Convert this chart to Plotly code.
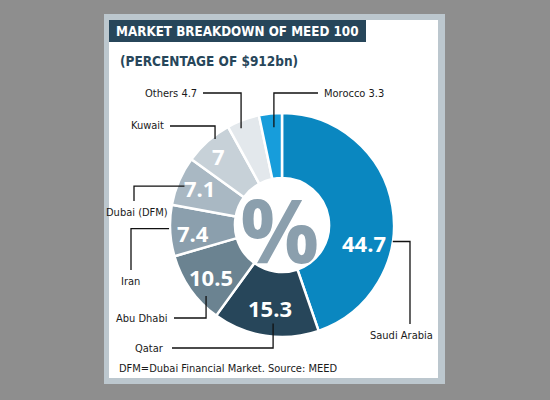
import math
import plotly.graph_objects as go

# ---- data ----
markets = ["Saudi Arabia", "Qatar", "Abu Dhabi", "Iran", "Dubai (DFM)", "Kuwait", "Others", "Morocco"]
shares = [44.7, 15.3, 10.5, 7.4, 7.1, 7.0, 4.7, 3.3]
value_text = ["44.7", "15.3", "10.5", "7.4", "7.1", "7", "", ""]
outer_labels = ["Saudi Arabia", "Qatar", "Abu Dhabi", "Iran", "Dubai (DFM)", "Kuwait", "Others 4.7", "Morocco 3.3"]

title_text = "MARKET BREAKDOWN OF MEED 100"
subtitle_text = "(PERCENTAGE OF $912bn)"
footer_text = "DFM=Dubai Financial Market. Source: MEED"

# ---- styles ----
colors = ["#0a87c0", "#27465a", "#6b8391", "#8b9fad", "#a9b8c3", "#c7d1d8", "#e3e8ec", "#179ddb"]
W, H = 550, 400
CX, CY, R = 282, 225, 112          # pie centre / radius in pixels
HOLE = 0.42
LABEL_FONT = "DejaVu Sans Condensed"

def px(x):
    return x / W

def py(y):
    return 1 - y / H

# value-text placement (angle offset deg, radius px)
txt_off = [22, 0, -1, -2, 1, -1, 0, 0]
txt_r = [84, 84, 88, 89, 90, 94, 0, 0]
# leader-line anchor (angle offset deg, radius px)
anc_off = [18, -3.3, -8, 1, -1.5, 3.5, -2.6, 1.2]
anc_r = [112, 99, 104, 113, 105, 109, 105, 98]
# label layout: (label x, label y, xanchor, elbow mode, elbow coordinate, line end)
label_layout = [
    (401, 335, "center", "hv", 410, 324),
    (166, 348, "right", "vh", 348, 172),
    (169, 318, "right", "vh", 318, 174),
    (130, 281, "center", "hv", 131, 270),
    (137, 212, "center", "hv", 134, 201),
    (166, 126, "right", "vh", 126, 170),
    (199, 93, "right", "vh", 93, 203),
    (322, 93, "left", "vh", 93, 318),
]

fig = go.Figure()
fig.add_trace(go.Pie(
    labels=markets, values=shares, sort=False, direction="clockwise", rotation=0,
    hole=HOLE, textinfo="none", hoverinfo="label+value",
    marker=dict(colors=colors, line=dict(color="white", width=2.5)),
    domain=dict(x=[px(CX - R), px(CX + R)], y=[py(CY + R), py(CY - R)]),
    showlegend=False,
))

shapes = [
    dict(type="rect", xref="paper", yref="paper", x0=px(104), x1=px(445), y0=py(384), y1=py(14),
         fillcolor="#bcc7ce", line=dict(width=0), layer="below"),
    dict(type="rect", xref="paper", yref="paper", x0=px(109), x1=px(438), y0=py(378), y1=py(20),
         fillcolor="white", line=dict(width=0), layer="below"),
    dict(type="rect", xref="paper", yref="paper", x0=px(109), x1=px(366), y0=py(42), y1=py(20),
         fillcolor="#27465a", line=dict(width=0), layer="below"),
]
annotations = [
    dict(text=title_text, x=px(114), y=py(31), xref="paper", yref="paper", xanchor="left",
         yanchor="middle", showarrow=False,
         font=dict(family="DejaVu Sans Condensed", size=13.3, color="white", weight="bold")),
    dict(text=subtitle_text, x=px(118), y=py(61), xref="paper", yref="paper", xanchor="left",
         yanchor="middle", showarrow=False,
         font=dict(family="DejaVu Sans Condensed", size=13.5, color="#27465a", weight="bold")),
    dict(text=footer_text, x=px(117), y=py(368), xref="paper", yref="paper", xanchor="left",
         yanchor="middle", showarrow=False,
         font=dict(family=LABEL_FONT, size=11, color="#1a1a1a")),
    dict(text="%", x=px(CX - 2), y=py(CY + 4), xref="paper", yref="paper", xanchor="center",
         yanchor="middle", showarrow=False,
         font=dict(family="Open Sans", size=88, color="#8b9fad", weight="bold")),
]

total = sum(shares)
cum = 0.0
for i, v in enumerate(shares):
    mid = 360.0 * (cum + v / 2) / total
    cum += v
    # value label inside slice
    if value_text[i]:
        a = math.radians(mid + txt_off[i])
        tx = CX + txt_r[i] * math.sin(a)
        ty = CY - txt_r[i] * math.cos(a)
        annotations.append(dict(text=value_text[i], x=px(tx), y=py(ty), xref="paper", yref="paper",
                                xanchor="center", yanchor="middle", showarrow=False,
                                font=dict(family="Open Sans", size=22, color="white", weight="bold")))
    # leader line
    a = math.radians(mid + anc_off[i])
    ax = CX + anc_r[i] * math.sin(a)
    ay = CY - anc_r[i] * math.cos(a)
    lx, ly, xa, mode, elb, end = label_layout[i]
    if mode == "hv":
        pts = [(ax, ay), (elb, ay), (elb, end)]
    else:
        pts = [(ax, ay), (ax, elb), (end, elb)]
    path = "M " + " L ".join(f"{px(x):.5f},{py(y):.5f}" for x, y in pts)
    shapes.append(dict(type="path", xref="paper", yref="paper", path=path,
                       line=dict(color="#111111", width=1.3)))
    annotations.append(dict(text=outer_labels[i], x=px(lx), y=py(ly), xref="paper", yref="paper",
                            xanchor=xa, yanchor="middle", showarrow=False,
                            font=dict(family=LABEL_FONT, size=11, color="#1a1a1a")))

fig.update_layout(
    width=W, height=H, margin=dict(l=0, r=0, t=0, b=0),
    paper_bgcolor="#8e8e8e", plot_bgcolor="#8e8e8e",
    shapes=shapes, annotations=annotations,
)
fig.write_html("out.html")
